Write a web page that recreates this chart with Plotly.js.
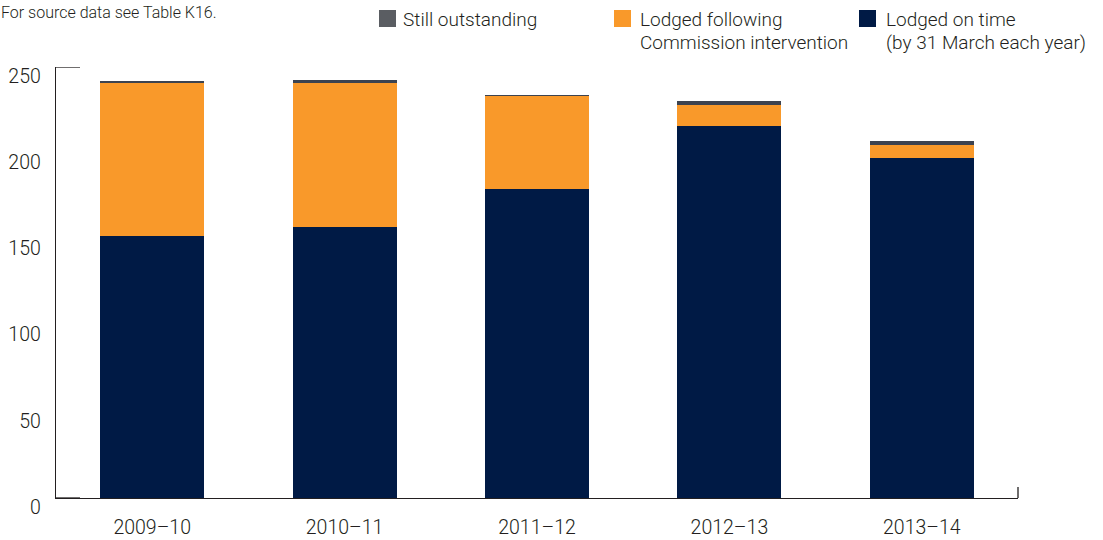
<!DOCTYPE html>
<html>
<head>
<meta charset="utf-8">
<script src="https://cdn.plot.ly/plotly-3.0.1.min.js"></script>
<style>html,body{margin:0;padding:0;background:#fff;}#chart{width:1103px;height:540px;}</style>
</head>
<body>
<div id="chart"></div>
<script>
const categories = ['2009–10', '2010–11', '2011–12', '2012–13', '2013–14'];
const lodgedOnTime = [152, 157, 179, 216, 197];
const lodgedAfterIntervention = [89, 84, 54, 12, 8];
const stillOutstanding = [0.6, 1.2, 0.7, 2, 1.9];
const yTickVals = [0, 50, 100, 150, 200, 250];
const yTickText = ['0', '50', '100', '150', '200', '250'];
const legendLine1 = ['Still outstanding', 'Lodged following', 'Lodged on time'];
const legendLine2 = ['', 'Commission intervention', '(by 31 March each year)'];
const sourceNote = 'For source data see Table K16.';

const NAVY = '#001a45', ORANGE = '#f9992a', GREY = '#3c4350', GREY_SW = '#5a5d62', TXT = '#231f20';
const FONT = 'Roboto, "Liberation Sans", Arial, sans-serif';

const W = 1103, H = 540;
const M = {l: 56, r: 85, t: 67, b: 42};
const PW = W - M.l - M.r, PH = H - M.t - M.b;
const px = x => (x - M.l) / PW;
const py = y => (H - M.b - y) / PH;

const barWidth = 0.54;
const traces = [
  {type: 'bar', x: categories, y: lodgedOnTime, name: 'Lodged on time', marker: {color: NAVY}, width: barWidth},
  {type: 'bar', x: categories, y: lodgedAfterIntervention, name: 'Lodged following Commission intervention', marker: {color: ORANGE}, width: barWidth},
  {type: 'bar', x: categories, y: stillOutstanding, name: 'Still outstanding', marker: {color: GREY}, width: barWidth}
];

const swatchColors = [GREY_SW, ORANGE, NAVY];
const swatchX = [379, 614, 859];
const textX = [403, 640, 886];
const shapes = [];
const annotations = [];
const legFont = {family: FONT, size: 19, color: TXT, weight: 300};
for (let i = 0; i < 3; i++) {
  shapes.push({type: 'rect', xref: 'paper', yref: 'paper', x0: px(swatchX[i]), x1: px(swatchX[i] + 17), y0: py(27), y1: py(10), fillcolor: swatchColors[i], line: {width: 0}});
  annotations.push({xref: 'paper', yref: 'paper', x: px(textX[i] - 2), y: py(19), xanchor: 'left', yanchor: 'middle', showarrow: false, text: legendLine1[i], font: legFont});
  if (legendLine2[i]) annotations.push({xref: 'paper', yref: 'paper', x: px(textX[i] - 2), y: py(43), xanchor: 'left', yanchor: 'middle', showarrow: false, text: legendLine2[i], font: legFont});
}
annotations.push({xref: 'paper', yref: 'paper', x: px(-1), y: py(12), xanchor: 'left', yanchor: 'middle', showarrow: false, text: sourceNote, font: {family: FONT, size: 16, color: TXT, weight: 300}});

// bracket ticks
shapes.push({type: 'line', xref: 'paper', yref: 'y', x0: 0, x1: 24 / PW, y0: 250, y1: 250, line: {color: TXT, width: 1.3}});
shapes.push({type: 'line', xref: 'paper', yref: 'y', x0: 0, x1: 24 / PW, y0: 0, y1: 0, line: {color: TXT, width: 1.3}});
shapes.push({type: 'line', xref: 'paper', yref: 'paper', x0: 1, x1: 1, y0: 0, y1: 11 / PH, line: {color: TXT, width: 1.3}});

const tickFont = {family: FONT, size: 19.5, color: TXT, weight: 300};
const layout = {
  width: W, height: H,
  margin: M,
  paper_bgcolor: '#fff', plot_bgcolor: '#fff',
  barmode: 'stack',
  showlegend: false,
  font: {family: FONT, color: TXT, size: 19, weight: 300},
  xaxis: {
    type: 'category', range: [-0.5, 4.5], showgrid: false, zeroline: false,
    showline: true, linecolor: TXT, linewidth: 1.3, ticks: '',
    tickfont: tickFont,
    ticklabelstandoff: 11, fixedrange: true
  },
  yaxis: {
    range: [0, 250], showgrid: false, zeroline: false,
    showline: true, linecolor: TXT, linewidth: 1.3, ticks: '',
    tickvals: yTickVals, ticktext: yTickText,
    tickfont: tickFont,
    ticklabelshift: 9, ticklabelstandoff: 10, fixedrange: true
  },
  shapes: shapes,
  annotations: annotations
};

Plotly.newPlot('chart', traces, layout, {displayModeBar: false, staticPlot: true});
</script>
</body>
</html>
